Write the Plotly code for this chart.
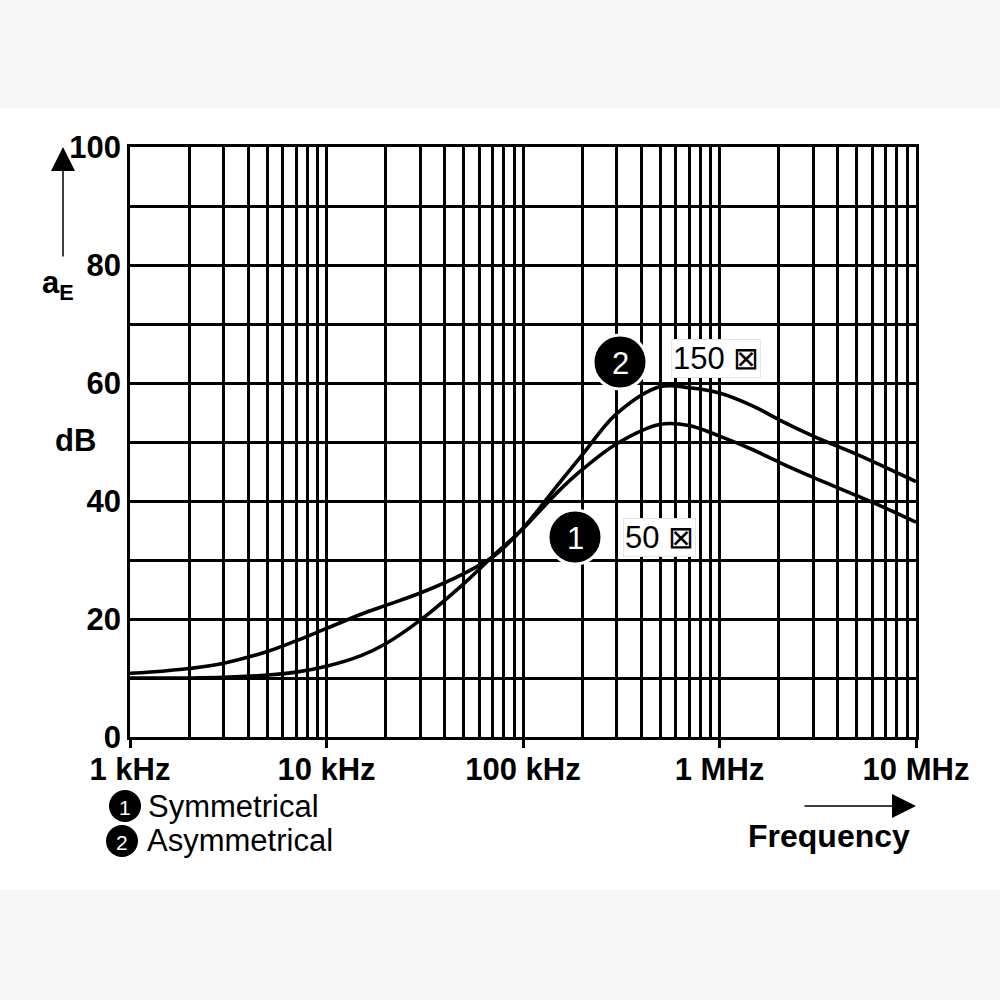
import plotly.graph_objects as go

# Frequencies (Hz)
freq = [1e3, 1.5e3, 2e3, 3e3, 5e3, 7e3, 1e4, 1.5e4, 2e4, 3e4, 5e4, 7e4, 1e5,
        1.5e5, 2e5, 3e5, 5e5, 7e5, 1e6, 1.5e6, 2e6, 3e6, 5e6, 7e6, 1e7]

# Attenuation aE in dB
symmetrical = [10.8, 11.2, 11.6, 12.5, 14.5, 16.3, 18.4, 20.8, 22.3, 24.4, 27.7, 30.5, 35.3,
               41.5, 45.3, 49.7, 53.0, 52.8, 51.0, 48.6, 46.6, 44.0, 40.9, 38.8, 36.4]
asymmetrical = [10.0, 10.0, 10.0, 10.1, 10.5, 11.0, 12.0, 13.8, 15.8, 19.8, 26.0, 30.6, 35.4,
                42.7, 47.8, 54.8, 59.4, 59.2, 58.3, 56.0, 53.8, 51.0, 47.9, 45.7, 43.3]

# Axis ticks
x_major = [1e3, 1e4, 1e5, 1e6, 1e7]
x_labels = ["1 kHz", "10 kHz", "100 kHz", "1 MHz", "10 MHz"]
x_minor = [m * d for d in [1e3, 1e4, 1e5, 1e6] for m in range(2, 10)]
y_major = [0, 20, 40, 60, 80, 100]
y_minor = [10, 30, 50, 70, 90]

FONT = "Liberation Sans"

# plot area in pixels (1000x1000 figure)
L, R, T, B = 130, 916, 147, 737


def px(x):
    return (x - L) / (R - L)


def py(y):
    return (B - y) / (B - T)


fig = go.Figure()

for name, vals in [("Symmetrical", symmetrical), ("Asymmetrical", asymmetrical)]:
    fig.add_trace(go.Scatter(
        x=freq, y=vals, name=name, mode="lines",
        line=dict(color="black", width=3.6, shape="spline", smoothing=1.0),
        showlegend=False, hoverinfo="skip",
    ))

shapes = [
    # light grey bands at top and bottom of the picture
    dict(type="rect", xref="paper", yref="paper", layer="below",
         x0=px(0), x1=px(1000), y0=py(108), y1=py(0),
         fillcolor="#f7f7f7", line_width=0),
    dict(type="rect", xref="paper", yref="paper", layer="below",
         x0=px(0), x1=px(1000), y0=py(1000), y1=py(890),
         fillcolor="#f7f7f7", line_width=0),
]
annotations = []


def text(x, y, txt, size=31, bold=False, xanchor="center", **kw):
    annotations.append(dict(
        xref="paper", yref="paper", x=px(x), y=py(y), xanchor=xanchor,
        yanchor="middle", text=f"<b>{txt}</b>" if bold else txt,
        showarrow=False, font=dict(family=FONT, size=size, color=kw.pop("color", "black")),
        **kw))


def badge(cx, cy, r, label, size, ring):
    shapes.append(dict(type="circle", xref="paper", yref="paper",
                       x0=px(cx - r), x1=px(cx + r), y0=py(cy + r), y1=py(cy - r),
                       fillcolor="black", line=dict(color="white", width=ring)))
    text(cx, cy + 1, label, size=size, color="white")


# numbered badges on the curves
badge(620, 362, 27, "2", 31, 3)
badge(575, 537, 27, "1", 31, 3)
# legend badges
badge(125, 806, 16, "1", 21, 0)
badge(122, 841, 16, "2", 21, 0)

# impedance boxes
text(671, 358, "150 ⊠", xanchor="left", bgcolor="white",
     bordercolor="#e6e6e6", borderwidth=1, borderpad=1)
text(623, 537, "50 ⊠", xanchor="left", bgcolor="white",
     bordercolor="#e6e6e6", borderwidth=1, borderpad=1)

# legend text
text(146, 806, "Symmetrical", xanchor="left")
text(145, 840, "Asymmetrical", xanchor="left")

# axis titles
text(58, 285, "a<sub>E</sub>", bold=True)
text(75, 440, "dB", bold=True)
text(829, 836, "Frequency", size=32, bold=True)

# axis arrows
annotations += [
    dict(xref="paper", yref="paper", x=px(63), y=py(147), ax=0, ay=111,
         text="", showarrow=True, arrowhead=2, arrowsize=3.2, arrowwidth=1.5,
         arrowcolor="black", standoff=0),
    dict(xref="paper", yref="paper", x=px(916), y=py(806), ax=-113, ay=0,
         text="", showarrow=True, arrowhead=2, arrowsize=3.2, arrowwidth=1.5,
         arrowcolor="black", standoff=0),
]

fig.update_layout(
    width=1000, height=1000,
    margin=dict(l=L, r=1000 - R, t=T, b=1000 - B),
    paper_bgcolor="white", plot_bgcolor="white",
    shapes=shapes, annotations=annotations,
    font=dict(family=FONT, color="black"),
)

fig.update_xaxes(
    type="log", range=[3, 7],
    tickmode="array", tickvals=x_major, ticktext=x_labels,
    ticks="outside", ticklen=8, tickwidth=2.5, tickcolor="black",
    ticklabelstandoff=-5,
    tickfont=dict(family=FONT, size=31, weight="bold", color="black"),
    showgrid=True, gridcolor="black", gridwidth=2.5,
    minor=dict(tickvals=x_minor, showgrid=True, gridcolor="black",
               gridwidth=2.5, ticks=""),
    showline=True, linecolor="black", linewidth=2.5, mirror=True,
    zeroline=False,
)

fig.update_yaxes(
    range=[0, 100],
    tickmode="array", tickvals=y_major,
    ticks="", ticklabelstandoff=0,
    tickfont=dict(family=FONT, size=31, weight="bold", color="black"),
    showgrid=True, gridcolor="black", gridwidth=2.5,
    minor=dict(tickvals=y_minor, showgrid=True, gridcolor="black",
               gridwidth=2.5, ticks=""),
    showline=True, linecolor="black", linewidth=2.5, mirror=True,
    zeroline=False,
)

# page body has a default 8px margin; remove it so the figure fills the window
fig.write_html("out.html", config={"displayModeBar": False},
               post_script="document.body.style.margin='0';")
